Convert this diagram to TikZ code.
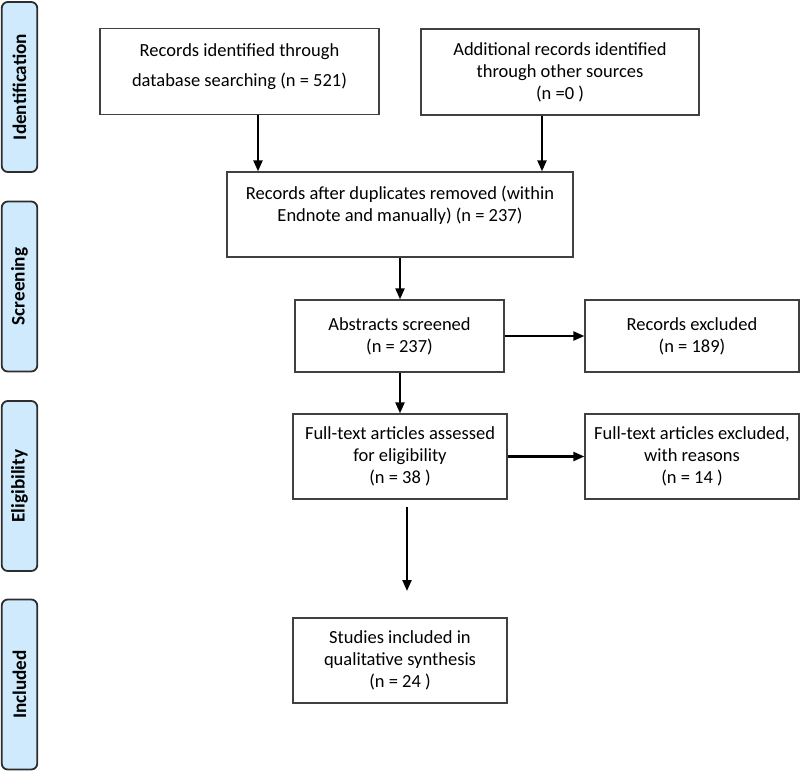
\documentclass[tikz,border=0pt]{standalone}
\usepackage{fontspec}
\setmainfont{Carlito}
\usetikzlibrary{arrows.meta}
\definecolor{phasefill}{RGB}{206,234,252}
\definecolor{boxline}{RGB}{64,64,64}
\tikzset{
  box/.style={draw=boxline, line width=1.3pt, fill=white, inner sep=0pt, align=center,
    font=\fontsize{18.5}{22}\selectfont},
  txt/.style={inner sep=0pt, align=center, font=\fontsize{18.5}{22}\selectfont},
  phase/.style={draw=boxline!70!black, line width=1.8pt, fill=phasefill, rounded corners=6pt,
    minimum width=35.5pt, minimum height=170pt, inner sep=0pt},
  phasetxt/.style={rotate=90, inner sep=0pt, font=\bfseries\fontsize{19.2}{21}\selectfont},
  arr/.style={line width=2.2pt, -{Triangle[length=11pt,width=9pt]}}
}
\begin{document}
\begin{tikzpicture}[x=1pt,y=-1pt]
\useasboundingbox (0,0) rectangle (800,772);
% phase boxes
\node[phase] (p1) at (19.5,87) {};
\node[phasetxt] (p1t) at (p1.center) {Identification};
\node[phase] (p2) at (19.5,286.5) {};
\node[phasetxt] (p2t) at (p2.center) {Screening};
\node[phase] (p3) at (19.5,486) {};
\node[phasetxt] (p3t) at (p3.center) {Eligibility};
\node[phase] (p4) at (19.5,684.5) {};
\node[phasetxt] (p4t) at (p4.center) {Included};
% boxes
\node[box, minimum width=279pt, minimum height=86pt] (b1) at (239.5,71.5) {};
\node[txt] (t1) at (239.5,67) {Records identified through\\[8pt]database searching (n = 521)};
\node[box, minimum width=278pt, minimum height=86pt] (b2) at (560,72) {Additional records identified\\through other sources\\(n =0 )};
\node[box, minimum width=346pt, minimum height=85pt] (b3) at (400,214.5) {};
\node[txt] (t3) at (400,205) {Records after duplicates removed (within\\Endnote and manually) (n = 237)};
\node[box, minimum width=209pt, minimum height=72pt] (b4) at (399.5,336) {Abstracts screened\\(n = 237)};
\node[box, minimum width=214pt, minimum height=72pt] (b5) at (692,336) {Records excluded\\(n = 189)};
\node[box, minimum width=214pt, minimum height=85pt] (b6) at (400,456.5) {Full-text articles assessed\\for eligibility\\(n = 38 )};
\node[box, minimum width=214pt, minimum height=85pt] (b7) at (692,456.5) {Full-text articles excluded,\\with reasons\\(n = 14 )};
\node[box, minimum width=214pt, minimum height=85pt] (b8) at (400,660.5) {Studies included in\\qualitative synthesis\\(n = 24 )};
% connector helpers
\coordinate (x1) at (258,0);
\coordinate (x2) at (542,0);
\coordinate (x3) at (400,0);
\coordinate (s6) at (407,507);
\coordinate (e6) at (407,591);
% connectors
\draw[arr] (b1.south -| x1) -- (b3.north -| x1);
\draw[arr] (b2.south -| x2) -- (b3.north -| x2);
\draw[arr] (b3.south -| x3) -- (b4.north -| x3);
\draw[arr] (b4.east) -- (b5.west);
\draw[arr] (b4.south -| x3) -- (b6.north -| x3);
\draw[arr] (b6.east) -- (b7.west);
\draw[arr] (s6) -- (e6);
\end{tikzpicture}
\end{document}
